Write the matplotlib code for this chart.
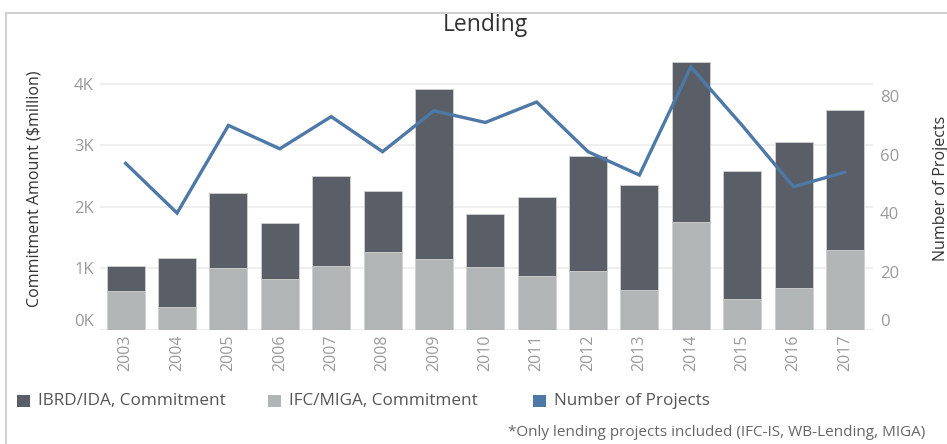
import matplotlib.pyplot as plt
from matplotlib.patches import Rectangle

plt.rcParams['font.family'] = ['Open Sans', 'DejaVu Sans']

# Data
years = ["2003", "2004", "2005", "2006", "2007", "2008", "2009", "2010",
         "2011", "2012", "2013", "2014", "2015", "2016", "2017"]
ifc_miga = [634, 369, 1003, 824, 1040, 1270, 1150, 1025,
            880, 960, 645, 1760, 510, 680, 1300]
total_commit = [1045, 1176, 2220, 1740, 2500, 2265, 3920, 1890,
                2170, 2830, 2360, 4360, 2580, 3060, 3570]
ibrd_ida = [t - f for t, f in zip(total_commit, ifc_miga)]
n_projects = [57, 40, 70, 62, 73, 61, 75, 71, 78, 61, 53, 90, 70, 49, 54]

left_ticks = [0, 1000, 2000, 3000, 4000]
left_labels = ["0K", "1K", "2K", "3K", "4K"]
right_ticks = [0, 20, 40, 60, 80]
legend_labels = ["IBRD/IDA, Commitment", "IFC/MIGA, Commitment", "Number of Projects"]

DARK = "#5a5e66"
LIGHT = "#b2b5b6"
BLUE = "#4e79a7"
TICK = "#9a9a9a"

fig = plt.figure(figsize=(9.47, 4.44), dpi=100)
ax = fig.add_axes([0.1056, 0.2568, 0.8164, 0.6372])

x = list(range(len(years)))
ax.bar(x, ifc_miga, width=0.74, color=LIGHT, edgecolor="#d0d0d0", linewidth=0.6, zorder=2)
ax.bar(x, ibrd_ida, width=0.74, bottom=ifc_miga, color=DARK, edgecolor="#d0d0d0",
       linewidth=0.6, zorder=2)

ax.set_xlim(-0.5, 14.55)
ax.set_ylim(0, 4600)
ax.set_yticks(left_ticks)
ax.set_yticklabels(left_labels)
ax.set_xticks(x)
ax.set_xticklabels(years, rotation=90)
ax.grid(axis="y", color="#ececec", linewidth=1.2, zorder=0)
ax.axhline(0, color="#e4e4e4", linewidth=1.2, zorder=1)
for s in ax.spines.values():
    s.set_visible(False)
ax.tick_params(axis="both", length=0, colors=TICK)
ax.tick_params(axis="y", pad=4.5, labelsize=12)
ax.tick_params(axis="x", pad=3, labelsize=11.5)
ax.get_yticklabels()[0].set_va("bottom")
ax.set_ylabel("Commitment Amount ($million)", fontsize=11.5, color="#333333")
ax.yaxis.set_label_coords(-0.075, 0.5)

ax2 = ax.twinx()
ax2.plot(x, n_projects, color=BLUE, linewidth=2.4, solid_joinstyle="miter", zorder=3)
ax2.set_ylim(0, 96.8)
ax2.set_yticks(right_ticks)
for s in ax2.spines.values():
    s.set_visible(False)
ax2.tick_params(axis="y", length=0, colors=TICK, labelsize=12, pad=5)
ax2.get_yticklabels()[0].set_va("bottom")
ax2.set_ylabel("Number of Projects", fontsize=11.5, color="#333333")
ax2.yaxis.set_label_coords(1.077, 0.5)

fig.text(0.5127, 0.944, "Lending", ha="center", va="center", fontsize=16.5, color="#333333")

# legend drawn by hand to match the spacing of the original
legend_x = [0.018, 0.283, 0.563]
legend_colors = [DARK, LIGHT, BLUE]
for lx, lc, lt in zip(legend_x, legend_colors, legend_labels):
    fig.patches.append(Rectangle((lx, 0.0968 - 0.0135), 0.0135, 0.028,
                                 transform=fig.transFigure, facecolor=lc, edgecolor="none"))
    fig.text(lx + 0.0222, 0.0968, lt, ha="left", va="center", fontsize=12.3, color="#555555")

fig.text(0.977, 0.027, "*Only lending projects included (IFC-IS, WB-Lending, MIGA)",
         ha="right", va="center", fontsize=11, color="#666666")

fig.patches.append(Rectangle((0.006, -0.02), 1.2, 1.0088 - 0.02 + 0.002, transform=fig.transFigure,
                             fill=False, edgecolor="#cfcfcf", linewidth=1.5))

fig.savefig("out.png", dpi=100)
